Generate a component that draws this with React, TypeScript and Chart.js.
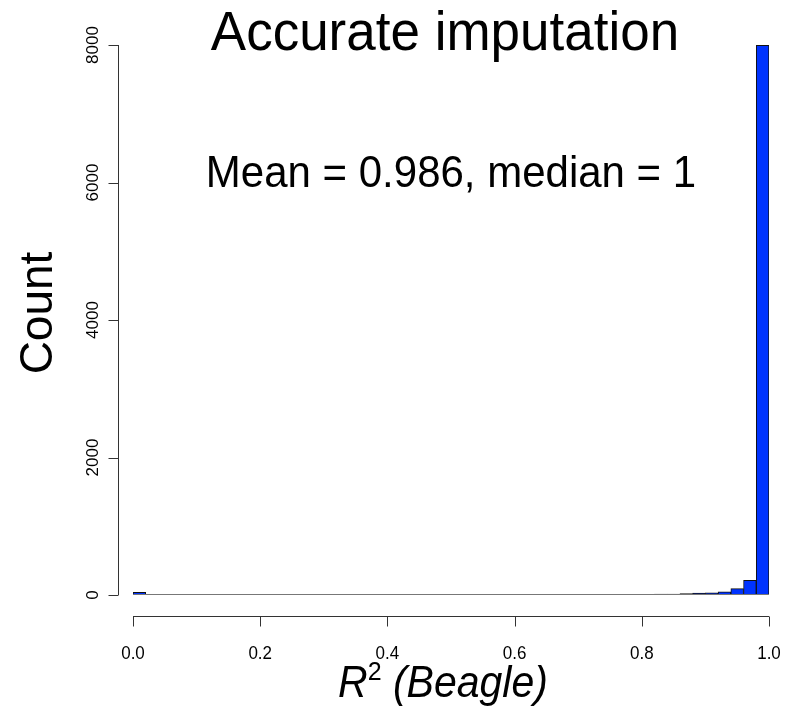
import React, { useEffect, useRef } from "react";
import { Chart, registerables } from "chart.js";

Chart.register(...registerables);

// Histogram bins of R^2 (Beagle), width 0.02, from 0.00 to 1.00
const binStarts: number[] = [
  0.0, 0.02, 0.04, 0.06, 0.08, 0.1, 0.12, 0.14, 0.16, 0.18,
  0.2, 0.22, 0.24, 0.26, 0.28, 0.3, 0.32, 0.34, 0.36, 0.38,
  0.4, 0.42, 0.44, 0.46, 0.48, 0.5, 0.52, 0.54, 0.56, 0.58,
  0.6, 0.62, 0.64, 0.66, 0.68, 0.7, 0.72, 0.74, 0.76, 0.78,
  0.8, 0.82, 0.84, 0.86, 0.88, 0.9, 0.92, 0.94, 0.96, 0.98,
];
const binWidth = 0.02;
const counts: number[] = [
  40, 3, 3, 4, 3, 4, 3, 4, 4, 5,
  4, 4, 5, 4, 5, 5, 6, 5, 5, 5,
  6, 5, 6, 6, 6, 6, 7, 6, 7, 6,
  7, 7, 8, 7, 8, 9, 8, 9, 10, 10,
  11, 12, 14, 19, 27, 32, 46, 92, 215, 7995,
];
const yTicks: number[] = [0, 2000, 4000, 6000, 8000];
const xTicks: number[] = [0, 0.2, 0.4, 0.6, 0.8, 1.0];
const xTickLabels: string[] = ["0.0", "0.2", "0.4", "0.6", "0.8", "1.0"];
const titleText = "Accurate imputation";
const annotationText = "Mean = 0.986, median = 1";
const yTitle = "Count";

const FONT = '"Liberation Sans", Arial, Helvetica, sans-serif';

function drawText(ctx: any, text: string, x: number, y: number, font: string, align: string, sy: number) {
  ctx.save();
  ctx.font = font;
  ctx.textAlign = align;
  ctx.translate(x, y);
  ctx.scale(1, sy);
  ctx.fillText(text, 0, 0);
  ctx.restore();
}

const rAxesPlugin = {
  id: "rAxes",
  afterDraw(chart: any) {
    const { ctx, chartArea, scales } = chart;
    const x = scales.x;
    const y = scales.y;
    ctx.save();
    ctx.fillStyle = "#000";
    ctx.lineWidth = 1;

    // baseline under bars
    const by0 = Math.round(y.getPixelForValue(0)) - 0.5;
    ctx.beginPath();
    ctx.moveTo(x.getPixelForValue(0), by0);
    ctx.lineTo(x.getPixelForValue(1), by0);
    ctx.strokeStyle = "#777";
    ctx.stroke();
    ctx.strokeStyle = "#333";

    // Y axis
    const ax = chartArea.left - 15 + 0.5;
    ctx.beginPath();
    ctx.moveTo(ax, y.getPixelForValue(yTicks[0]));
    ctx.lineTo(ax, y.getPixelForValue(yTicks[yTicks.length - 1]));
    for (const t of yTicks) {
      const py = Math.round(y.getPixelForValue(t)) + 0.5;
      ctx.moveTo(ax, py);
      ctx.lineTo(ax - 10, py);
    }
    ctx.stroke();
    ctx.font = `17px ${FONT}`;
    ctx.textAlign = "center";
    ctx.textBaseline = "middle";
    for (const t of yTicks) {
      const py = y.getPixelForValue(t);
      ctx.save();
      ctx.translate(ax - 25, py);
      ctx.rotate(-Math.PI / 2);
      ctx.fillText(String(t), 0, 0);
      ctx.restore();
    }

    // X axis
    const ay = chartArea.bottom + 21 + 0.5;
    ctx.beginPath();
    ctx.moveTo(x.getPixelForValue(xTicks[0]), ay);
    ctx.lineTo(x.getPixelForValue(xTicks[xTicks.length - 1]), ay);
    for (const t of xTicks) {
      const px = Math.round(x.getPixelForValue(t)) + 0.5;
      ctx.moveTo(px, ay);
      ctx.lineTo(px, ay + 10);
    }
    ctx.stroke();
    ctx.textBaseline = "alphabetic";
    xTicks.forEach((t, i) => {
      drawText(ctx, xTickLabels[i], x.getPixelForValue(t), ay + 42, `17px ${FONT}`, "center", 1.08);
    });

    // Titles
    drawText(ctx, titleText, 445, 50, `53px ${FONT}`, "center", 1.05);
    drawText(ctx, annotationText, 451, 187, `42px ${FONT}`, "center", 1.05);

    // Y title
    ctx.save();
    ctx.font = `46px ${FONT}`;
    ctx.translate(52, 313);
    ctx.rotate(-Math.PI / 2);
    ctx.textAlign = "center";
    ctx.fillText(yTitle, 0, 0);
    ctx.restore();

    // X title: R^2 (Beagle)
    const partR = "R";
    const partSup = "2";
    const partRest = " (Beagle)";
    const mainFont = `italic 41px ${FONT}`;
    const supFont = `25px ${FONT}`;
    ctx.font = mainFont;
    const wR = ctx.measureText(partR).width;
    const wRest = ctx.measureText(partRest).width;
    ctx.font = supFont;
    const wSup = ctx.measureText(partSup).width;
    const total = wR + wSup + wRest;
    let sx = 443 - total / 2;
    const by = 697;
    drawText(ctx, partR, sx, by, mainFont, "left", 1.1);
    sx += wR;
    drawText(ctx, partSup, sx, by - 17, supFont, "left", 1.0);
    sx += wSup;
    drawText(ctx, partRest, sx, by, mainFont, "left", 1.1);

    ctx.restore();
  },
};

export default function App() {
  const canvasRef = useRef<HTMLCanvasElement | null>(null);

  useEffect(() => {
    if (!canvasRef.current) return;
    const data = binStarts.map((s, i) => ({ x: s + binWidth / 2, y: counts[i] }));
    const chart = new Chart(canvasRef.current, {
      type: "bar",
      data: {
        datasets: [
          {
            data: data as any,
            backgroundColor: "#0033ff",
            borderColor: "#111",
            borderWidth: 1,
            barPercentage: 1,
            categoryPercentage: 1,
          },
        ],
      },
      options: {
        animation: false,
        responsive: true,
        maintainAspectRatio: false,
        layout: { padding: { left: 133, right: 28, top: 45, bottom: 112 } },
        plugins: {
          legend: { display: false },
          tooltip: { enabled: false },
          title: { display: false },
        },
        scales: {
          x: { type: "linear", min: 0, max: 1, offset: false, display: false },
          y: { type: "linear", min: 0, max: 8000, display: false },
        },
      },
      plugins: [rAxesPlugin],
    });
    return () => chart.destroy();
  }, []);

  return (
    <div style={{ position: "absolute", left: 0, top: 0, width: 797, height: 707, background: "#fff" }}>
      <canvas ref={canvasRef} />
    </div>
  );
}
